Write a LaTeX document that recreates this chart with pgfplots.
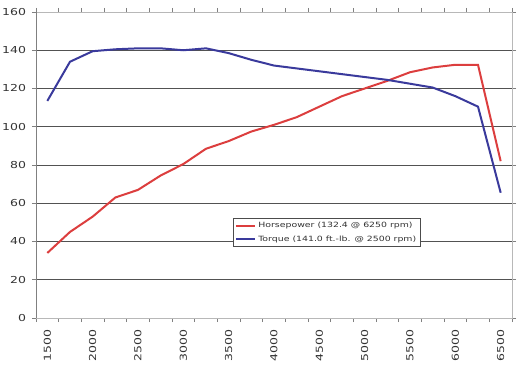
\documentclass[border=0pt]{standalone}
\usepackage{fontspec}
\usepackage{pgfplots}
\pgfplotsset{compat=1.18}
\newfontfamily\wfont[FakeStretch=1.3]{DejaVu Sans}
\definecolor{hpred}{RGB}{220,62,62}
\definecolor{tqblue}{RGB}{58,58,156}
\begin{document}
\begin{tikzpicture}
\useasboundingbox (0,0) rectangle (519bp,365bp);
\begin{axis}[
  at={(36bp,47bp)}, anchor=south west,
  scale only axis, width=476bp, height=306bp,
  xmin=-0.5, xmax=20.5, ymin=0, ymax=160,
  xtick={0,2,...,20},
  xticklabels={1500,2000,2500,3000,3500,4000,4500,5000,5500,6000,6500},
  minor xtick={-0.5,0.5,...,20.5},
  every major x tick/.append style={draw=none},
  ytick={0,20,...,160},
  extra y ticks={20,40,...,140},
  extra y tick labels={},
  extra y tick style={grid=major, major tick length=0pt},
  major grid style={draw=black!68, line width=0.8bp},
  tick align=outside,
  major tick length=4bp, minor tick length=4bp,
  tick style={draw=black!50, line width=0.8bp},
  axis line style={draw=black!28, line width=0.8bp},
  tick label style={font=\wfont\fontsize{9.6bp}{10bp}\selectfont, text=black!80},
  xticklabel shift=4bp,
  yticklabel shift=2.5bp,
  /pgf/number format/assume math mode=true,
  y tick label style={/pgf/number format/1000 sep={}},
  x tick label style={rotate=90, anchor=east},
  legend style={at={(0.414,0.327)}, anchor=north west, draw=black!70, fill=white,
    font=\wfont\fontsize{7.2bp}{8bp}\selectfont, text=black!80,
    row sep=2.5bp, inner xsep=2bp, inner ysep=2bp, line width=0.6bp},
  legend cell align=left,
  legend image code/.code={\draw[#1] (0bp,0bp) -- (19bp,0bp);},
]
\addplot[hpred, line width=2bp] coordinates {
 (0,34) (1,45) (2,53) (3,63) (4,67) (5,74.5) (6,80.5) (7,88.5) (8,92.5) (9,97.5)
 (10,101) (11,105) (12,110.5) (13,116) (14,120) (15,124) (16,128.5) (17,131) (18,132.4) (19,132.4) (20,82)};
\addlegendentry{Horsepower (132.4 @ 6250 rpm)}
\addplot[tqblue, line width=2bp] coordinates {
 (0,113.5) (1,134) (2,139.5) (3,140.5) (4,141) (5,141) (6,140) (7,141) (8,138.5) (9,135)
 (10,132) (11,130.5) (12,129) (13,127.5) (14,126) (15,124.5) (16,122.5) (17,120.5) (18,116) (19,110.5) (20,65.5)};
\addlegendentry{Torque (141.0 ft.-lb. @ 2500 rpm)}
\draw[black!50, line width=0.8bp] (rel axis cs:0,0) -- (rel axis cs:0,1);
\draw[black!50, line width=0.8bp] (rel axis cs:0,0) -- (rel axis cs:1,0);
\end{axis}
\end{tikzpicture}
\end{document}
